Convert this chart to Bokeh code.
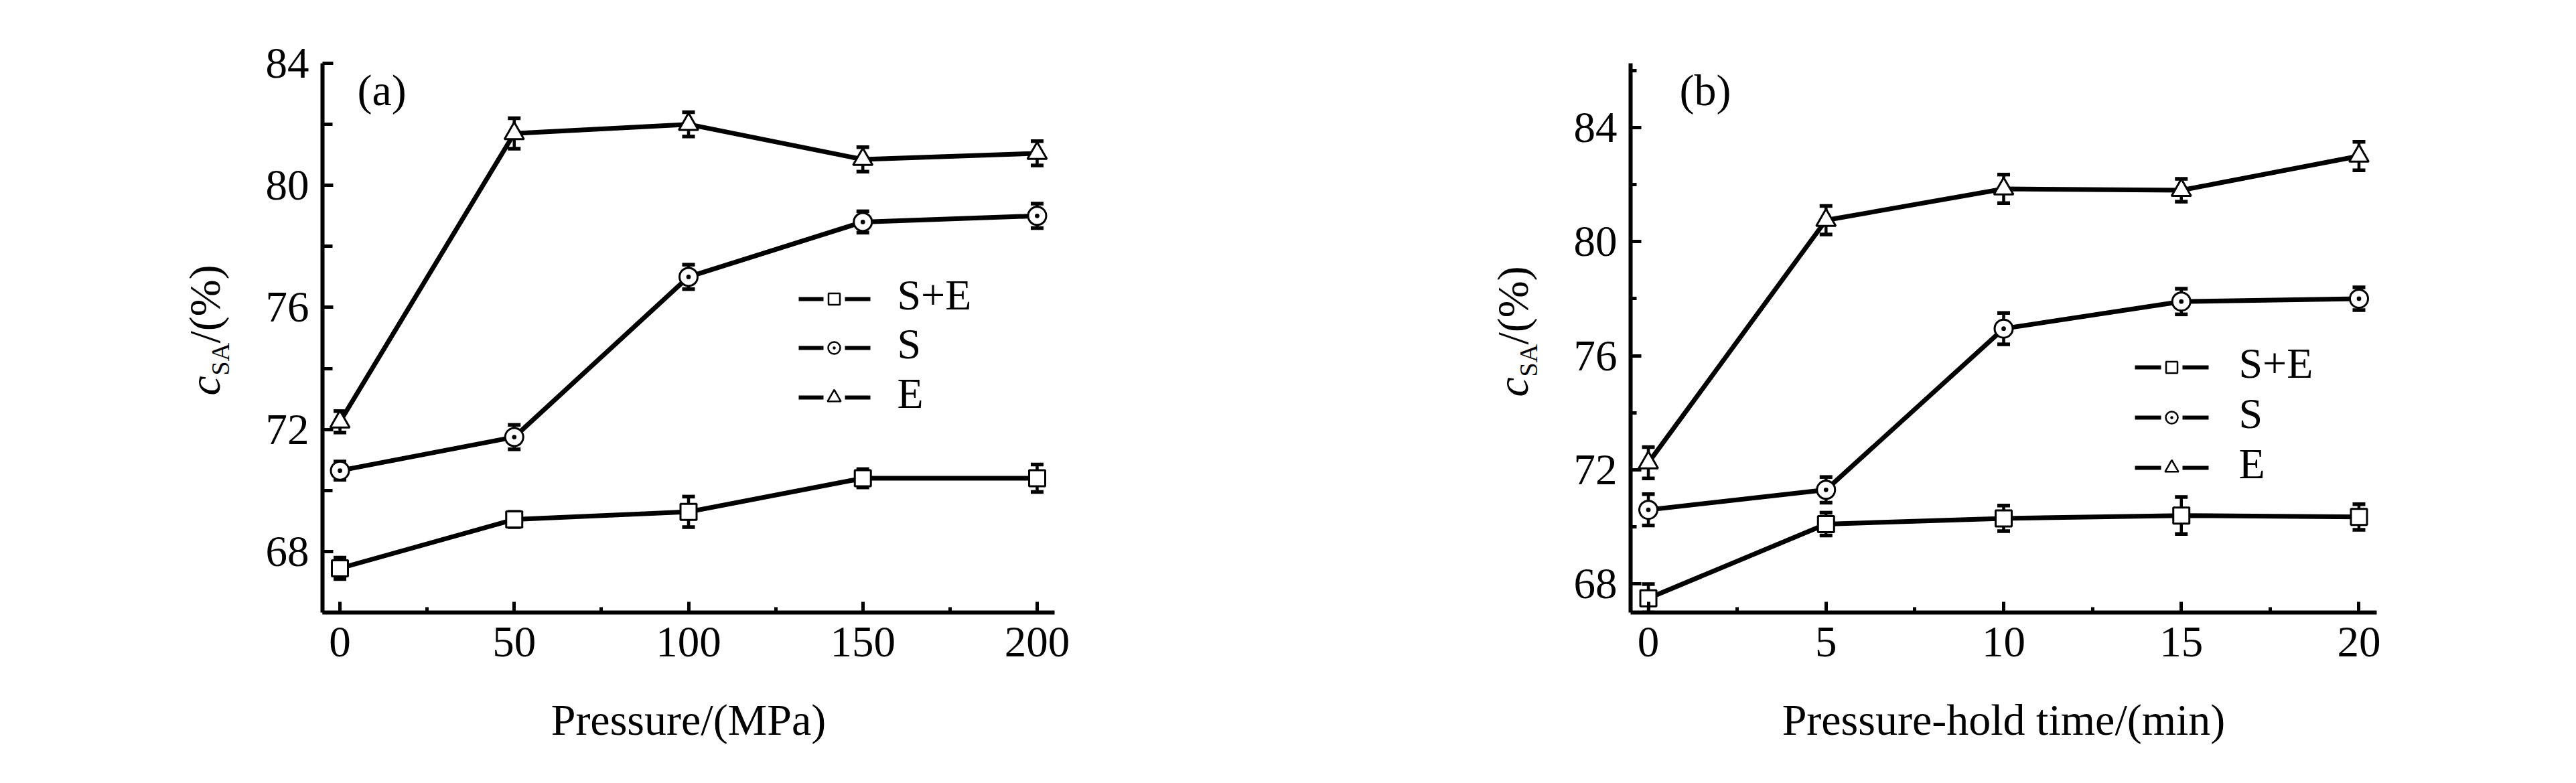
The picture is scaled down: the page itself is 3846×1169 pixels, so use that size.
import math
from bokeh.plotting import figure
from bokeh.layouts import row
from bokeh.models import FixedTicker, Label, Range1d
from bokeh.embed import file_html
from bokeh.resources import INLINE

# ---------------- data ----------------
pressure = [0, 50, 100, 150, 200]
a_SE = [67.45, 69.05, 69.3, 70.4, 70.4]
a_SE_err = [0.35, 0.25, 0.5, 0.3, 0.45]
a_S = [70.65, 71.75, 77.0, 78.8, 79.0]
a_S_err = [0.3, 0.4, 0.4, 0.35, 0.4]
a_E = [72.25, 81.7, 82.0, 80.85, 81.05]
a_E_err = [0.35, 0.5, 0.4, 0.4, 0.4]

hold_time = [0, 5, 10, 15, 20]
b_SE = [67.5, 70.1, 70.3, 70.4, 70.35]
b_SE_err = [0.5, 0.4, 0.45, 0.65, 0.45]
b_S = [70.6, 71.3, 76.95, 77.9, 78.0]
b_S_err = [0.55, 0.45, 0.55, 0.45, 0.4]
b_E = [72.25, 80.75, 81.85, 81.8, 83.0]
b_E_err = [0.55, 0.5, 0.5, 0.4, 0.5]

series_names = ["S+E", "S", "E"]
a_xticks = [0, 50, 100, 150, 200]
a_xminor = [25, 75, 125, 175]
a_yticks = [68, 72, 76, 80, 84]
a_yminor = [66, 70, 74, 78, 82]
b_xticks = [0, 5, 10, 15, 20]
b_xminor = [2.5, 7.5, 12.5, 17.5]
b_yticks = [68, 72, 76, 80, 84]
b_yminor = [70, 74, 78, 82, 86]

FONT = "Liberation Serif"
MARKERS = ["square", "circle_dot", "triangle"]
MSIZE = [24, 27, 29]
LSIZE = [17, 18, 20]
H = 1150
# common frame rows (page pixels) shared by every figure of the row
FT, FB = 102, 922
BT, BB = FT - 8, 8 + H - FB


def make_panel(width, bl, br, xr, yr, xt, xm, yt, ym, y_minor_in, xlabel):
    p = figure(width=width, height=H, output_backend="svg",
               toolbar_location=None, x_range=Range1d(*xr), y_range=Range1d(*yr),
               min_border_left=bl, min_border_right=br,
               min_border_top=BT, min_border_bottom=BB)
    p.title.visible = False
    p.outline_line_color = None
    p.xgrid.visible = False
    p.ygrid.visible = False
    p.background_fill_color = "white"
    p.border_fill_color = "white"
    p.xaxis.ticker = FixedTicker(ticks=xt, minor_ticks=xm)
    p.yaxis.ticker = FixedTicker(ticks=yt, minor_ticks=ym)
    for ax in (p.xaxis[0], p.yaxis[0]):
        ax.axis_line_width = 6
        ax.axis_line_color = "black"
        ax.major_tick_line_width = 5
        ax.minor_tick_line_width = 5
        ax.major_tick_line_color = "black"
        ax.minor_tick_line_color = "black"
        ax.major_tick_out = 0
        ax.minor_tick_out = 0
        ax.major_tick_in = 16
        ax.major_label_text_font = FONT
        ax.major_label_text_font_size = "65px"
        ax.major_label_text_color = "black"
    p.xaxis.minor_tick_in = 8
    p.yaxis.minor_tick_in = y_minor_in
    p.xaxis.major_label_standoff = 22
    p.yaxis.major_label_standoff = 20
    p.xaxis.axis_label = xlabel
    p.xaxis.axis_label_text_font = FONT
    p.xaxis.axis_label_text_font_size = "66px"
    p.xaxis.axis_label_text_font_style = "normal"
    p.xaxis.axis_label_text_color = "black"
    p.xaxis.axis_label_standoff = 55
    return p


def draw_series(p, x, y, err, marker, size):
    p.line(x, y, line_color="black", line_width=7)
    lo = [v - e for v, e in zip(y, err)]
    hi = [v + e for v, e in zip(y, err)]
    p.segment(x0=x, y0=lo, x1=x, y1=hi, line_color="black", line_width=4.5)
    p.scatter(x, hi, marker="dash", size=19, line_color="black", line_width=5.5)
    p.scatter(x, lo, marker="dash", size=19, line_color="black", line_width=5.5)
    p.scatter(x, y, marker=marker, size=size, fill_color="white",
              line_color="black", line_width=3)


def px_mapper(fl, fr, xr, yr):
    def fx(px):
        return xr[0] + (px - fl) / (fr - fl) * (xr[1] - xr[0])

    def fy(py):
        return yr[0] + (FB - py) / (FB - FT) * (yr[1] - yr[0])
    return fx, fy


def decorate(p, fx, fy, tag, tag_px, leg):
    p.add_layout(Label(x=fx(tag_px[0]), y=fy(tag_px[1]), text=tag,
                       text_font=FONT, text_font_size="66px",
                       text_color="black", text_baseline="middle",
                       text_align="left"))
    lx0, lmk, lx1, ltx, rows = leg
    for i, name in enumerate(series_names):
        yy = fy(rows[i])
        p.segment(x0=[fx(lx0), fx(lmk + 16)], y0=[yy, yy],
                  x1=[fx(lmk - 16), fx(lx1)], y1=[yy, yy],
                  line_color="black", line_width=6)
        p.scatter([fx(lmk)], [yy], marker=MARKERS[i], size=LSIZE[i],
                  fill_color="white", line_color="black", line_width=2.5)
        p.add_layout(Label(x=fx(ltx), y=fy(rows[i] - 6), text=name,
                           text_font=FONT, text_font_size="64px",
                           text_color="black", text_baseline="middle",
                           text_align="left"))


def title_strip(left, width, base_x, start_y):
    """Narrow figure holding the rotated y-axis title c_SA/(%)."""
    q = figure(width=width, height=H, output_backend="svg",
               toolbar_location=None, x_axis_type=None, y_axis_type=None,
               x_range=Range1d(left, left + width),
               y_range=Range1d(FB, FT),
               min_border_left=0, min_border_right=0,
               min_border_top=BT, min_border_bottom=BB)
    q.title.visible = False
    q.outline_line_color = None
    q.xgrid.visible = False
    q.ygrid.visible = False
    ang = math.pi / 2
    q.add_layout(Label(x=base_x - 20, y=start_y, text="c",
                       text_font=FONT, text_font_size="66px",
                       text_font_style="italic", angle=ang,
                       text_color="black", text_baseline="middle"))
    q.add_layout(Label(x=base_x + 3, y=start_y - 30, text="SA",
                       text_font=FONT, text_font_size="38px", angle=ang,
                       text_color="black", text_baseline="middle"))
    q.add_layout(Label(x=base_x - 20, y=start_y - 78, text="/(%)",
                       text_font=FONT, text_font_size="66px", angle=ang,
                       text_color="black", text_baseline="middle"))
    return q


# ---------------- panel (a) ----------------
A_XR = (-5, 205)
A_YR = (66, 84)
STRIP_A = 380
qa = title_strip(8, STRIP_A, 333, 598)
p1 = make_panel(1900 - STRIP_A, 481 - STRIP_A, 326, A_XR, A_YR,
                a_xticks, a_xminor, a_yticks, a_yminor, 15, "Pressure/(MPa)")
for yv, ev, mk, sz in zip([a_SE, a_S, a_E], [a_SE_err, a_S_err, a_E_err],
                          MARKERS, MSIZE):
    draw_series(p1, pressure, yv, ev, mk, sz)
fx1, fy1 = px_mapper(489, 1582, A_XR, A_YR)
decorate(p1, fx1, fy1, "(a)", (541, 142),
         (1200, 1253, 1307, 1347, [454, 527, 601]))

# ---------------- panel (b) ----------------
B_XR = (-0.5, 20.5)
B_YR = (67, 86.25)
STRIP_B = 430
qb = title_strip(1908, STRIP_B, 2286, 600)
p2 = make_panel(1930 - STRIP_B, 534 - STRIP_B, 282, B_XR, B_YR,
                b_xticks, b_xminor, b_yticks, b_yminor, 9,
                "Pressure-hold time/(min)")
for yv, ev, mk, sz in zip([b_SE, b_S, b_E], [b_SE_err, b_S_err, b_E_err],
                          MARKERS, MSIZE):
    draw_series(p2, hold_time, yv, ev, mk, sz)
fx2, fy2 = px_mapper(2442, 3556, B_XR, B_YR)
decorate(p2, fx2, fy2, "(b)", (2515, 142),
         (3195, 3250, 3305, 3350, [556, 631, 706]))

layout = row(qa, p1, qb, p2)
open("out.html", "w").write(file_html(layout, INLINE))
